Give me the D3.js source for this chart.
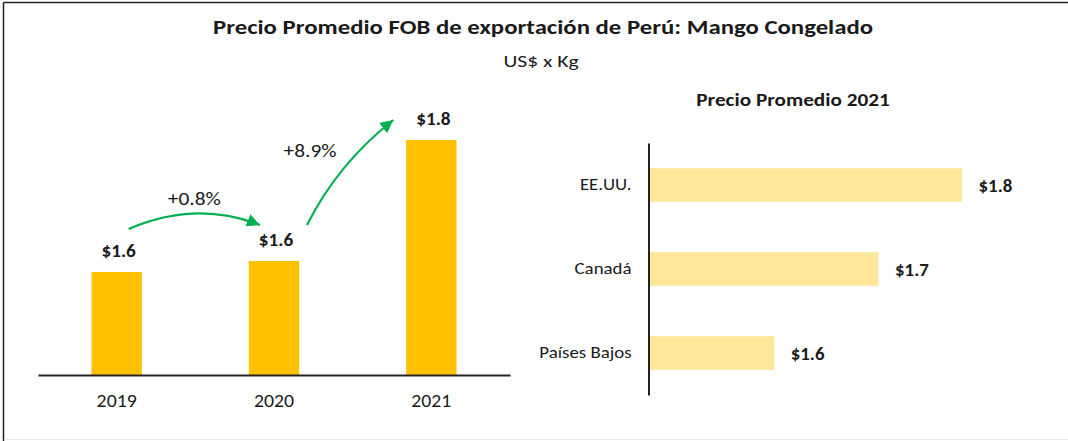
<!DOCTYPE html>
<html><head>
<meta charset="utf-8">
<title>Precio Promedio FOB - Mango Congelado</title>
<script src="https://d3js.org/d3.v7.min.js"></script>
<style>
  body { margin: 0; background: #fff; }
  svg text { font-family: Carlito, Calibri, Lato, sans-serif; fill: #1a1a1a; }
  .title { font-size: 20px; font-weight: bold; }
  .sub { font-size: 17px; }
  .subtitle2 { font-size: 18px; font-weight: bold; }
  .val { font-size: 18px; font-weight: bold; }
  .pct { font-size: 18px; }
</style>
</head>
<body>
<svg id="chart" width="1068" height="441"></svg>
<script>
// data
let years = ["2019", "2020", "2021"];
let yearPrices = [1.61, 1.623, 1.767];
let growthLabels = ["+0.8%", "+8.9%"];

let countries = ["EE.UU.", "Canadá", "Países Bajos"];
let countryPrices = [1.80, 1.72, 1.62];

let fmt = d => "$" + d3.format(".1f")(d);

// the reference text is a little wider than the installed fonts, widen it horizontally
function stretch(sel, sx) {
  sel.each(function() {
    let t = d3.select(this);
    let x = +t.attr("x") || 0, y = +t.attr("y") || 0;
    t.attr("x", 0).attr("y", 0)
     .attr("transform", "translate(" + x + "," + y + ") scale(" + sx + ",1)");
  });
}

let svg = d3.select("svg#chart");

// frame: dark top/left, light bottom
svg.append("line").attr("x1", 3.5).attr("x2", 1068).attr("y1", 2.5).attr("y2", 2.5)
  .attr("stroke", "#222").attr("stroke-width", 1.5);
svg.append("line").attr("x1", 3.5).attr("x2", 3.5).attr("y1", 2.5).attr("y2", 441)
  .attr("stroke", "#222").attr("stroke-width", 1.5);
svg.append("line").attr("x1", 4).attr("x2", 1068).attr("y1", 439.5).attr("y2", 439.5)
  .attr("stroke", "#e6e6e6").attr("stroke-width", 1);

svg.append("text").attr("class", "title").attr("x", 543).attr("y", 34)
  .attr("text-anchor", "middle").text("Precio Promedio FOB de exportación de Perú: Mango Congelado")
  .call(stretch, 1.24);
svg.append("text").attr("class", "sub").attr("x", 541).attr("y", 67)
  .attr("text-anchor", "middle").text("US$ x Kg")
  .call(stretch, 1.27);

// ---- left: yearly bars
let baseY = 375;
let xScale = d3.scaleBand().domain(years).range([38, 510])
  .paddingInner(0.68).paddingOuter(0.34);
let yScale = d3.scaleLinear().domain([1.4875, 1.767]).range([baseY, 140]);

let left = svg.append("g");
left.selectAll("rect").data(years).enter().append("rect")
  .attr("x", d => xScale(d))
  .attr("width", xScale.bandwidth())
  .attr("y", (d, i) => yScale(yearPrices[i]))
  .attr("height", (d, i) => baseY - yScale(yearPrices[i]))
  .attr("fill", "#FFC000");

let xAxis = d3.axisBottom(xScale).tickSize(0).tickPadding(19);
let xg = left.append("g").attr("transform", "translate(0," + baseY + ")").call(xAxis);
xg.select(".domain").attr("stroke", "#222").attr("stroke-width", 2);
xg.selectAll(".tick text").style("font-size", "18px")
  .style("font-family", "Carlito, Calibri, Lato, sans-serif").attr("fill", "#1a1a1a")
  .call(stretch, 1.1);

left.selectAll("text.val").data(years).enter().append("text")
  .attr("class", "val")
  .attr("x", d => xScale(d) + xScale.bandwidth() / 2 + 2)
  .attr("y", (d, i) => yScale(yearPrices[i]) - 15)
  .attr("text-anchor", "middle")
  .text((d, i) => fmt(yearPrices[i]))
  .call(stretch, 1.07);

// growth arrows
let defs = svg.append("defs");
defs.append("marker").attr("id", "head")
  .attr("markerUnits", "userSpaceOnUse")
  .attr("markerWidth", 16).attr("markerHeight", 16)
  .attr("refX", 13).attr("refY", 6.5).attr("orient", "auto")
  .append("path").attr("d", "M0,0 L13,6.5 L0,13 Z").attr("fill", "#00B050");

let c = d => xScale(d) + xScale.bandwidth() / 2;
let lab = i => yScale(yearPrices[i]) - 15;

let a1 = d3.path();
a1.moveTo(c("2019") + 12, lab(0) - 28);
a1.quadraticCurveTo((c("2019") + c("2020")) / 2 + 1, lab(0) - 57, c("2020") - 14, lab(1) - 21);
let a2 = d3.path();
a2.moveTo(c("2020") + 33, lab(1) - 21);
a2.bezierCurveTo(c("2020") + 51, lab(1) - 57, c("2020") + 76, lab(1) - 92, c("2021") - 38, lab(2) - 5);

[a1, a2].forEach(p => {
  left.append("path").attr("d", p.toString())
    .attr("fill", "none").attr("stroke", "#00B050").attr("stroke-width", 2.2)
    .attr("marker-end", "url(#head)");
});

left.append("text").attr("class", "pct").attr("x", (c("2019") + c("2020")) / 2 - 1)
  .attr("y", lab(0) - 52).attr("text-anchor", "middle").text(growthLabels[0])
  .call(stretch, 1.19);
left.append("text").attr("class", "pct").attr("x", c("2020") + 36)
  .attr("y", lab(2) + 32).attr("text-anchor", "middle").text(growthLabels[1])
  .call(stretch, 1.19);

// ---- right: 2021 by country
let axisX = 648.5;
let right = svg.append("g");
right.append("text").attr("class", "subtitle2")
  .attr("x", 793).attr("y", 106).attr("text-anchor", "middle").text("Precio Promedio 2021")
  .call(stretch, 1.18);

let cy = d3.scaleBand().domain(countries).range([143, 395])
  .paddingInner(0.6).paddingOuter(0.3);
let cx = d3.scaleLinear().domain([1.5, 1.8]).range([0, 313]);

right.selectAll("rect").data(countries).enter().append("rect")
  .attr("x", axisX + 0.5)
  .attr("y", d => cy(d))
  .attr("height", cy.bandwidth())
  .attr("width", (d, i) => cx(countryPrices[i]))
  .attr("fill", "#FFE699");

let yAxis = d3.axisLeft(cy).tickSize(0).tickPadding(17);
let yg = right.append("g").attr("transform", "translate(" + axisX + ",0)").call(yAxis);
yg.select(".domain").attr("stroke", "#222").attr("stroke-width", 2);
yg.selectAll(".tick text").style("font-size", "17px")
  .style("font-family", "Carlito, Calibri, Lato, sans-serif").attr("fill", "#262626")
  .call(stretch, 1.11);

right.selectAll("text.val").data(countries).enter().append("text")
  .attr("class", "val")
  .attr("x", (d, i) => axisX + cx(countryPrices[i]) + 17)
  .attr("y", d => cy(d) + cy.bandwidth() / 2 + 7)
  .text((d, i) => fmt(countryPrices[i]))
  .call(stretch, 1.05);
</script>
</body>
</html>
